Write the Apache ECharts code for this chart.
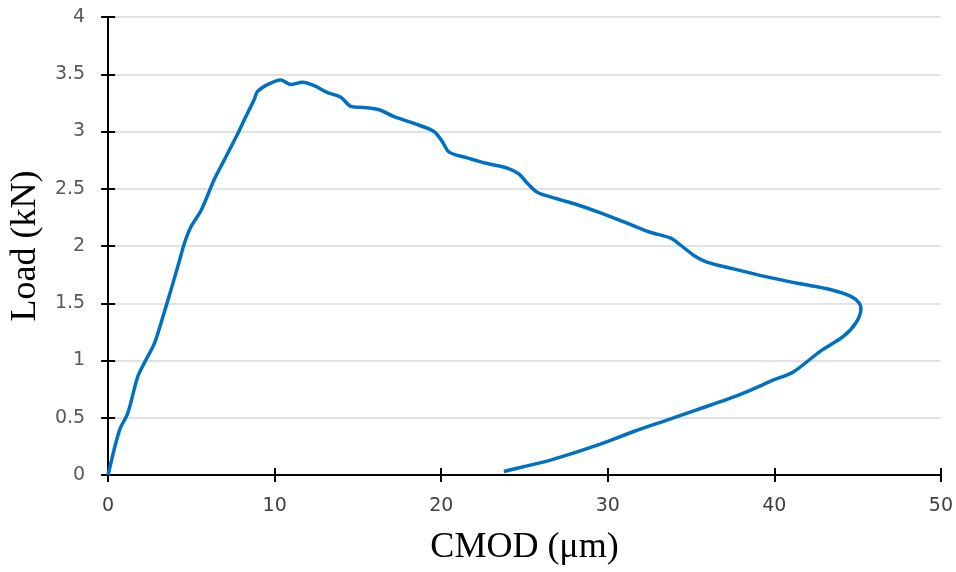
<!DOCTYPE html>
<html>
<head>
<meta charset="utf-8">
<script src="https://cdn.jsdelivr.net/npm/echarts@6/dist/echarts.min.js"></script>
<style>
  html, body { margin: 0; padding: 0; background: #fff; }
  #main { width: 956px; height: 572px; }
</style>
</head>
<body>
<div id="main"></div>
<script>
// CMOD (um) and load (kN), in the order the test went (up, peak, softening, unloading)
const cmod = [
  0, 0.68, 1.18, 1.78, 2.18, 2.78, 3.18, 3.78, 4.3, 4.57,
  4.98, 5.58, 6.37, 6.97, 7.78, 8.17, 8.77, 8.97, 9.57, 10.37,
  10.97, 11.67, 12.37, 13.17, 13.97, 14.57, 15.37, 16.27, 17.17, 18.37,
  19.56, 20.07, 20.47, 21.56, 22.76, 23.96, 24.66, 25.16, 25.76, 26.76,
  28.16, 29.36, 31.15, 32.55, 33.75, 34.35, 35.15, 35.95, 37.55, 39.55,
  41.55, 43.35, 44.6, 45.1, 45.2, 44.9, 44.14, 42.75, 41.14, 39.95,
  38.55, 37.15, 35.55, 33.55, 31.55, 29.56, 26.56, 25.16, 23.76
];
const load = [
  0, 0.39, 0.54, 0.86, 0.98, 1.15, 1.33, 1.62, 1.88, 2.02,
  2.17, 2.31, 2.58, 2.75, 2.98, 3.10, 3.28, 3.35, 3.41, 3.45,
  3.41, 3.43, 3.40, 3.34, 3.30, 3.22, 3.21, 3.19, 3.13, 3.07,
  3.00, 2.91, 2.82, 2.77, 2.72, 2.68, 2.63, 2.55, 2.47, 2.42,
  2.36, 2.30, 2.20, 2.12, 2.07, 2.01, 1.92, 1.86, 1.80, 1.73,
  1.67, 1.62, 1.56, 1.50, 1.45, 1.33, 1.21, 1.08, 0.90, 0.83,
  0.74, 0.66, 0.58, 0.48, 0.38, 0.27, 0.13, 0.08, 0.03
];

const xRange = [0, 50, 10];
const yRange = [0, 4, 0.5];

const points = cmod.map(function (x, i) {
  return [x, load[i]];
});

const tickFont = "DejaVu Sans";
const titleFont = "Liberation Serif";

let myChart = echarts.init(document.getElementById("main"));
myChart.setOption({
  animation: false,
  backgroundColor: "#fff",
  grid: {
    left: 107,
    right: 15,
    top: 17,
    bottom: 97,
  },
  xAxis: [
    {
      type: "value",
      min: xRange[0],
      max: xRange[1],
      interval: xRange[2],
      name: "CMOD (μm)",
      nameLocation: "middle",
      nameGap: 55,
      nameTextStyle: { fontFamily: titleFont, fontSize: 36, color: "#000" },
      axisLine: { show: true, onZero: false, lineStyle: { color: "#000", width: 2 } },
      axisTick: { show: true, length: 7, lineStyle: { color: "#000", width: 2 } },
      axisLabel: { margin: 22, fontFamily: tickFont, fontSize: 19, color: "#404040" },
      splitLine: { show: false },
    },
    {
      // inner half of the crossing ticks
      type: "value",
      position: "bottom",
      min: xRange[0],
      max: xRange[1],
      interval: xRange[2],
      axisLine: { show: false },
      axisTick: { show: true, inside: true, length: 7, lineStyle: { color: "#000", width: 2 } },
      axisLabel: { show: false },
      splitLine: { show: false },
    },
  ],
  yAxis: [
    {
      type: "value",
      min: yRange[0],
      max: yRange[1],
      interval: yRange[2],
      name: "Load (kN)",
      nameLocation: "middle",
      nameGap: 55,
      nameTextStyle: { fontFamily: titleFont, fontSize: 36, color: "#000" },
      axisLine: { show: true, onZero: false, lineStyle: { color: "#000", width: 2 } },
      axisTick: { show: true, length: 7, lineStyle: { color: "#000", width: 2 } },
      axisLabel: { margin: 23, fontFamily: tickFont, fontSize: 19, color: "#595959" },
      splitLine: { show: true, lineStyle: { color: "#d9d9d9", width: 1.5 } },
    },
    {
      type: "value",
      position: "left",
      min: yRange[0],
      max: yRange[1],
      interval: yRange[2],
      axisLine: { show: false },
      axisTick: { show: true, inside: true, length: 7, lineStyle: { color: "#000", width: 2 } },
      axisLabel: { show: false },
      splitLine: { show: false },
    },
  ],
  series: [
    {
      type: "line",
      xAxisIndex: 0,
      yAxisIndex: 0,
      data: points,
      smooth: 0.3,
      showSymbol: false,
      lineStyle: { color: "#0070c0", width: 3.5 },
      z: 5,
    },
  ],
});
</script>
</body>
</html>
